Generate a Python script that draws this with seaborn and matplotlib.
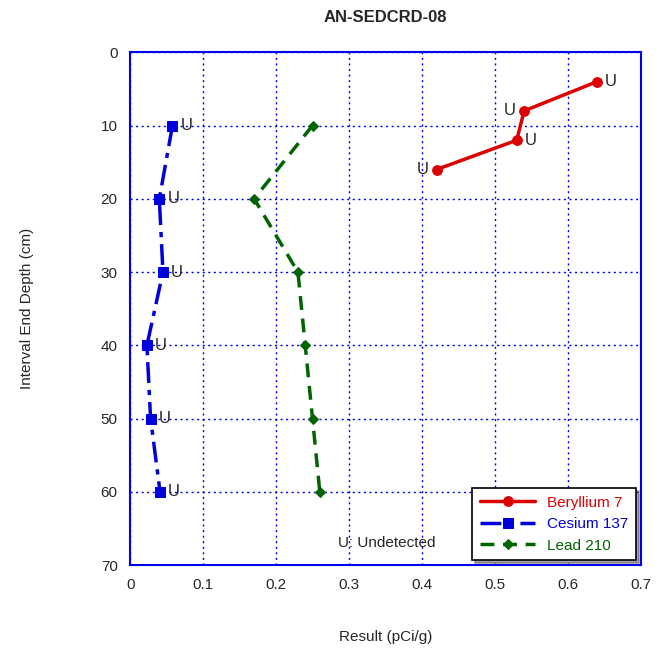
import matplotlib
matplotlib.use("Agg")
import matplotlib.pyplot as plt
import seaborn as sns
import pandas as pd

# Values
be_depth = [4, 8, 12, 16]
be_result = [0.64, 0.54, 0.53, 0.42]
be_label_side = ["right", "left", "right", "left"]

cs_depth = [10, 20, 30, 40, 50, 60]
cs_result = [0.058, 0.040, 0.045, 0.023, 0.028, 0.041]

pb_depth = [10, 20, 30, 40, 50, 60]
pb_result = [0.25, 0.17, 0.23, 0.24, 0.25, 0.26]

sns.set_style("white")
plt.rcParams["font.family"] = ["Liberation Sans", "DejaVu Sans"]

fig = plt.figure(figsize=(6.64, 6.54), dpi=100)
ax = fig.add_axes([0.196, 0.136, 0.769, 0.784])

sns.lineplot(x=be_result, y=be_depth, sort=False, estimator=None, ax=ax,
             color="#dd0000", lw=2.5, marker="o", ms=7, mec="#dd0000",
             label="Beryllium 7")
sns.lineplot(x=cs_result, y=cs_depth, sort=False, estimator=None, ax=ax,
             color="#0000dd", lw=2.5, marker="s", ms=7, mec="#0000dd",
             dashes=(6, 2, 1.5, 2), label="Cesium 137")
sns.lineplot(x=pb_result, y=pb_depth, sort=False, estimator=None, ax=ax,
             color="#006400", lw=2.5, marker="D", ms=5, mec="#006400",
             dashes=(4, 2.5), label="Lead 210")

# U labels
for x, y, side in zip(be_result, be_depth, be_label_side):
    if side == "right":
        ax.text(x + 0.011, y, "U", fontsize=12, va="center", ha="left")
    else:
        ax.text(x - 0.011, y, "U", fontsize=12, va="center", ha="right")
for x, y in zip(cs_result, cs_depth):
    ax.text(x + 0.011, y, "U", fontsize=12, va="center", ha="left")

ax.text(0.285, 67, "U: Undetected", fontsize=11, va="center", ha="left")

ax.set_xlim(0, 0.7)
ax.set_ylim(70, 0)
ax.set_xticks([0, 0.1, 0.2, 0.3, 0.4, 0.5, 0.6, 0.7])
ax.set_xticklabels(["0", "0.1", "0.2", "0.3", "0.4", "0.5", "0.6", "0.7"])
ax.set_yticks(range(0, 71, 10))
ax.tick_params(labelsize=11, length=0, pad=9)
ax.grid(True, color="#0000ee", ls=(0, (1.5, 2.5)), lw=1)
for s in ax.spines.values():
    s.set_color("#0000ee")
    s.set_linewidth(1.5)

ax.set_title("AN-SEDCRD-08", fontsize=12, fontweight="bold", pad=22)
ax.set_xlabel("Result (pCi/g)", fontsize=11, labelpad=28)
ax.set_ylabel("Interval End Depth (cm)", fontsize=11, labelpad=48)

leg = ax.legend(loc="lower right", fontsize=11, frameon=True, shadow=True,
                fancybox=False, edgecolor="black", handlelength=3.6,
                borderaxespad=0.3, labelspacing=0.5, borderpad=0.5)
leg.get_frame().set_linewidth(1.2)
for t, c in zip(leg.get_texts(), ["#dd0000", "#0000dd", "#006400"]):
    t.set_color(c)

fig.savefig("out.png", dpi=100)
